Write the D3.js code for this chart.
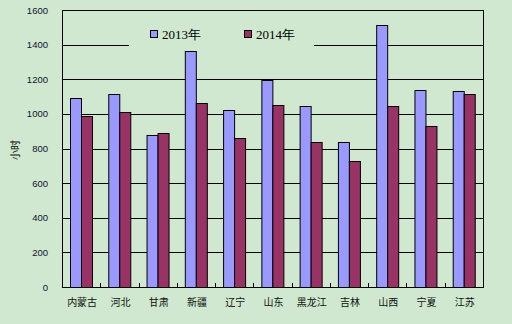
<!DOCTYPE html>
<html>
<head>
<meta charset="utf-8">
<script src="https://cdn.jsdelivr.net/npm/d3@7"></script>
<style>
  html, body { margin: 0; padding: 0; background: #cfe8cf; }
  svg { display: block; }
</style>
</head>
<body>
<svg id="chart" width="512" height="324"></svg>
<script>
// Annual hours by province, 2013 vs 2014
const provinces = ["内蒙古", "河北", "甘肃", "新疆", "辽宁", "山东", "黑龙江", "吉林", "山西", "宁夏", "江苏"];
const series = ["2013年", "2014年"];
const values2013 = [1093, 1113, 877, 1364, 1022, 1197, 1046, 836, 1514, 1136, 1131];
const values2014 = [986, 1009, 890, 1064, 860, 1052, 838, 730, 1043, 928, 1113];
const yTicks = [0, 200, 400, 600, 800, 1000, 1200, 1400, 1600];
const yTitle = "小时";

const colors = { "2013年": "#9999ff", "2014年": "#993366" };
const bg = "#cfe8cf";

const svg = d3.select("#chart");
const plot = { left: 62, right: 483, top: 10, bottom: 287 };

svg.append("rect").attr("width", 512).attr("height", 324).attr("fill", bg);

const x = d3.scaleBand().domain(provinces).range([plot.left, plot.right]).padding(0);
const bw = x.bandwidth();
const x1 = d3.scaleBand().domain(series).range([bw * 0.2, bw * 0.8]).padding(0);
const y = d3.scaleLinear().domain([0, 1600]).range([plot.bottom, plot.top]);

// horizontal gridlines
svg.append("g")
  .selectAll("line")
  .data(yTicks.filter(d => d > 0 && d < 1600))
  .join("line")
  .attr("x1", plot.left).attr("x2", plot.right)
  .attr("y1", d => Math.round(y(d)) + 0.5).attr("y2", d => Math.round(y(d)) + 0.5)
  .attr("stroke", "#000").attr("stroke-width", 1);

// plot frame
svg.append("rect")
  .attr("x", plot.left + 0.5).attr("y", plot.top + 0.5)
  .attr("width", plot.right - plot.left).attr("height", plot.bottom - plot.top)
  .attr("fill", "none").attr("stroke", "#000").attr("stroke-width", 1);

// y axis labels
const yAxis = d3.axisLeft(y).tickValues(yTicks).tickSize(0).tickPadding(14).tickFormat(d3.format("d"));
const gy = svg.append("g").attr("transform", `translate(${plot.left},0)`).call(yAxis);
gy.select(".domain").remove();
gy.selectAll("text")
  .attr("font-family", "Liberation Sans, Arial, sans-serif")
  .attr("font-size", "9.5px")
  .attr("fill", "#101030");

// x axis with inward ticks at category boundaries
const gx = svg.append("g").attr("transform", `translate(0,${plot.bottom})`);
gx.selectAll("line")
  .data(provinces.slice(1))
  .join("line")
  .attr("x1", d => Math.round(x(d)) + 0.5).attr("x2", d => Math.round(x(d)) + 0.5)
  .attr("y1", 0).attr("y2", -4)
  .attr("stroke", "#000");
gx.selectAll("text")
  .data(provinces)
  .join("text")
  .attr("x", d => x(d) + bw / 2 + 1)
  .attr("y", 19)
  .attr("text-anchor", "middle")
  .attr("font-family", "Noto Sans CJK SC, sans-serif")
  .attr("font-size", "10px")
  .attr("fill", "#101010")
  .text(d => d);

// bars
const rows = provinces.map((p, i) => ({ p, vals: [values2013[i], values2014[i]] }));
const groups = svg.append("g").selectAll("g")
  .data(rows)
  .join("g")
  .attr("transform", d => `translate(${x(d.p)},0)`);
groups.selectAll("rect")
  .data(d => series.map((s, j) => ({ s, v: d.vals[j] })))
  .join("rect")
  .attr("x", d => Math.round(x1(d.s)) + 0.5)
  .attr("y", d => Math.round(y(d.v)) + 0.5)
  .attr("width", Math.round(x1.bandwidth()))
  .attr("height", d => plot.bottom - Math.round(y(d.v)))
  .attr("fill", d => colors[d.s])
  .attr("stroke", "#000")
  .attr("stroke-width", 1);

// y axis title
svg.append("text")
  .attr("transform", "translate(19,150) rotate(-90)")
  .attr("text-anchor", "middle")
  .attr("font-family", "Noto Sans CJK SC, sans-serif")
  .attr("font-size", "10px")
  .attr("fill", "#101010")
  .text(yTitle);

// legend
const legend = svg.append("g");
legend.append("rect")
  .attr("x", 129).attr("y", 18).attr("width", 185).attr("height", 30)
  .attr("fill", bg);
const legendX = [150, 244];
series.forEach((s, i) => {
  legend.append("rect")
    .attr("x", legendX[i] + 0.5).attr("y", 30.5)
    .attr("width", 7).attr("height", 7)
    .attr("fill", colors[s]).attr("stroke", "#000");
  legend.append("text")
    .attr("x", legendX[i] + 12).attr("y", 38.5)
    .attr("font-family", "Liberation Serif, Times New Roman, serif")
    .attr("font-size", "13px")
    .attr("fill", "#000")
    .text(s);
});
</script>
</body>
</html>
